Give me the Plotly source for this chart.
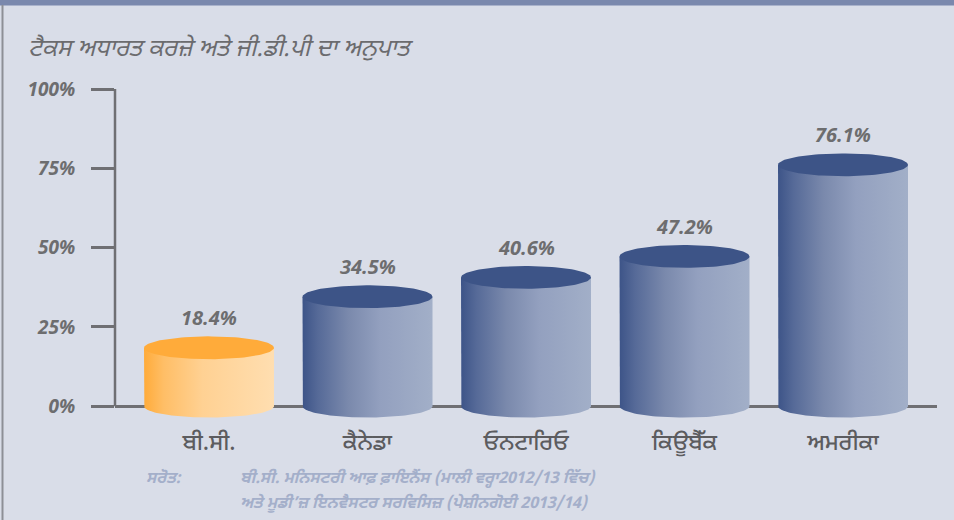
import numpy as np
import plotly.graph_objects as go

# ---- data ----
title_text = "ਟੈਕਸ ਅਧਾਰਤ ਕਰਜ਼ੇ ਅਤੇ ਜੀ.ਡੀ.ਪੀ ਦਾ ਅਨੁਪਾਤ"
categories = ["ਬੀ.ਸੀ.", "ਕੈਨੇਡਾ", "ਓਨਟਾਰਿਓ", "ਕਿਊਬੈੱਕ", "ਅਮਰੀਕਾ"]
values = [18.4, 34.5, 40.6, 47.2, 76.1]
value_labels = ["18.4%", "34.5%", "40.6%", "47.2%", "76.1%"]
y_ticks = [0, 25, 50, 75, 100]
y_tick_labels = ["0%", "25%", "50%", "75%", "100%"]
source_label = "ਸਰੋਤ:"
source_lines = ["ਬੀ.ਸੀ. ਮਨਿਸਟਰੀ ਆਫ਼ ਫ਼ਾਇਨੈਂਸ (ਮਾਲੀ ਵਰ੍ਹਾ2012/13 ਵਿੱਚ)",
                "ਅਤੇ ਮੂਡੀ’ਜ਼ ਇਨਵੈਸਟਰ ਸਰਵਿਸਿਜ਼ (ਪੇਸ਼ੀਨਗੋਈ 2013/14)"]

# ---- style ----
W, H = 954, 520
BG = "#d9dde8"
AXIS = "#6f6f73"
GUR = "Noto Sans Gurmukhi, Noto Sans, Lato, sans-serif"
NUM = "Open Sans, Noto Sans, sans-serif"
blue_scale = [[0, "#3d5488"], [0.12, "#566a98"], [0.35, "#7a89ac"], [0.6, "#93a0bf"], [1, "#a2afc8"]]
orange_scale = [[0, "#ffab3a"], [0.15, "#ffbe66"], [0.45, "#ffd193"], [1, "#ffdeb0"]]
blue_top = "#3d5487"
orange_top = "#ffab3a"

half_w = 0.41      # cylinder half width (category units)
ell_b = 3.6        # ellipse semi-minor (y units)

L, R, T = 115, 17, 89
y_min, y_max = -5, 100
px_per = (406 - 89) / 100.0
plot_h = (y_max - y_min) * px_per
B = H - T - plot_h
x_range = [-0.593, 4.593]
plot_w = W - L - R

def px_to_paper_x(px):
    return (px - L) / plot_w

def px_to_paper_y(py):
    return (H - B - py) / plot_h

fig = go.Figure()
t = np.linspace(0, np.pi, 60)
for i, v in enumerate(values):
    cx = i
    is_bc = i == 0
    # side of cylinder
    bx = cx + half_w * np.cos(np.pi + t)
    by = 0 - ell_b * np.sin(t)
    xs = np.concatenate([[cx - half_w], bx, [cx + half_w, cx - half_w]])
    ys = np.concatenate([[v], by, [v, v]])
    fig.add_trace(go.Scatter(
        x=xs, y=ys, mode="lines", fill="toself", line=dict(width=0),
        fillgradient=dict(type="horizontal",
                          colorscale=orange_scale if is_bc else blue_scale),
        hoverinfo="skip", showlegend=False))
    # top ellipse
    tt = np.linspace(0, 2 * np.pi, 120)
    fig.add_trace(go.Scatter(
        x=cx + half_w * np.cos(tt), y=v + ell_b * np.sin(tt),
        mode="lines", fill="toself", line=dict(width=0),
        fillcolor=orange_top if is_bc else blue_top,
        hoverinfo="skip", showlegend=False))
    fig.add_annotation(x=cx, y=v, text=value_labels[i], showarrow=False,
                       yshift=30, yanchor="middle",
                       font=dict(family=NUM, size=20, color="#6d6d6f",
                                 weight="bold", style="italic"))

# y-axis line from 0 to 100
fig.add_shape(type="line", xref="paper", yref="y", x0=0, x1=0, y0=0, y1=100,
              line=dict(color=AXIS, width=2.5), layer="below")
# top bar
fig.add_shape(type="rect", xref="paper", yref="paper",
              x0=px_to_paper_x(-2), x1=px_to_paper_x(W + 2),
              y0=px_to_paper_y(5.5), y1=px_to_paper_y(-2),
              fillcolor="#7a88ad", line=dict(width=0))
# left border
fig.add_shape(type="line", xref="paper", yref="paper",
              x0=px_to_paper_x(2.5), x1=px_to_paper_x(2.5),
              y0=px_to_paper_y(5), y1=px_to_paper_y(H + 2),
              line=dict(color="#8d8f96", width=2))

src_font = dict(family=GUR, size=16, color="#a4afca", style="italic", weight="bold")
fig.add_annotation(xref="paper", yref="paper", x=px_to_paper_x(144), y=px_to_paper_y(479),
                   text=source_label, showarrow=False, xanchor="left", yanchor="middle",
                   font=src_font)
for k, line in enumerate(source_lines):
    fig.add_annotation(xref="paper", yref="paper", x=px_to_paper_x(238),
                       y=px_to_paper_y(479 + 25 * k), text=line, showarrow=False,
                       xanchor="left", yanchor="middle", font=src_font)

fig.update_layout(
    width=W, height=H,
    margin=dict(l=L, r=R, t=T, b=B, pad=0),
    paper_bgcolor=BG, plot_bgcolor=BG,
    title=dict(text=title_text, xref="container", yref="container",
               x=28 / W, y=1 - 48 / H, xanchor="left", yanchor="middle",
               font=dict(family=GUR, size=24, color="#6b6b6e", style="italic")),
    xaxis=dict(range=x_range, tickmode="array", tickvals=list(range(len(categories))),
               ticktext=categories, showgrid=False, zeroline=False, showline=False,
               ticks="", ticklabelstandoff=4,
               tickfont=dict(family=GUR, size=23, color="#5c5c5f", weight=500)),
    yaxis=dict(range=[y_min, y_max], tickmode="array", tickvals=y_ticks,
               ticktext=y_tick_labels, showgrid=False, showline=False,
               zeroline=True, zerolinecolor=AXIS, zerolinewidth=2.5,
               ticks="outside", ticklen=23, tickwidth=2.5, tickcolor=AXIS,
               ticklabelstandoff=12,
               tickfont=dict(family=NUM, size=19, color="#6d6d6f",
                             weight="bold", style="italic")),
)

fig.write_html("out.html", config={"displayModeBar": False},
               post_script="document.body.style.margin='0';document.body.style.overflow='hidden';")
